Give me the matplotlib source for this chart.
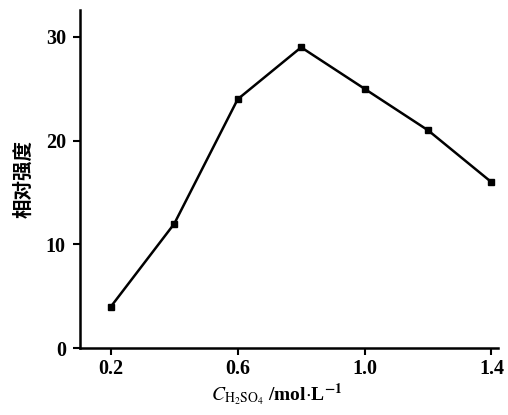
import numpy as np
from matplotlib import pyplot as plt

# H2SO4 concentration (mol/L) vs relative intensity
conc = [0.2, 0.4, 0.6, 0.8, 1.0, 1.2, 1.4]
intensity = [4, 12, 24, 29, 25, 21, 16]
x_ticks = [0.2, 0.6, 1.0, 1.4]
x_tick_labels = ["0.2", "0.6", "1.0", "1.4"]
y_ticks = [0, 10, 20, 30]

plt.rcParams['mathtext.fontset'] = 'stix'
serif = ['Liberation Serif', 'DejaVu Serif']

fig = plt.figure(figsize=(5.08, 4.15), dpi=100)
ax = fig.add_axes([0.157, 0.161, 0.823, 0.815])

ax.plot(conc, intensity, color='black', linewidth=1.8,
        marker='s', markersize=4.5)

ax.set_xlim(0.102, 1.42)
ax.set_ylim(0, 32.6)
ax.set_xticks(x_ticks)
ax.set_xticklabels(x_tick_labels)
ax.set_yticks(y_ticks)

for side in ['top', 'right']:
    ax.spines[side].set_visible(False)
for side in ['left', 'bottom']:
    ax.spines[side].set_linewidth(1.8)
ax.tick_params(direction='out', length=5, width=1.5, labelsize=14.5)
ax.tick_params(axis='y', pad=5)
ax.tick_params(axis='x', pad=3)
for lab in ax.get_xticklabels() + ax.get_yticklabels():
    lab.set_family(serif)
    lab.set_fontweight('bold')

ax.set_ylabel("相对强度", family=['Noto Sans CJK SC', 'DejaVu Sans'],
              fontsize=14, fontweight='bold', labelpad=9)
ax.set_xlabel(r"$C_{\mathrm{H_2SO_4}}$ /mol$\cdot$L$^{\mathbf{-1}}$",
              family=serif, fontsize=14, fontweight='bold')
ax.xaxis.set_label_coords(0.47, -0.097)

fig.savefig("out.png", dpi=100)
